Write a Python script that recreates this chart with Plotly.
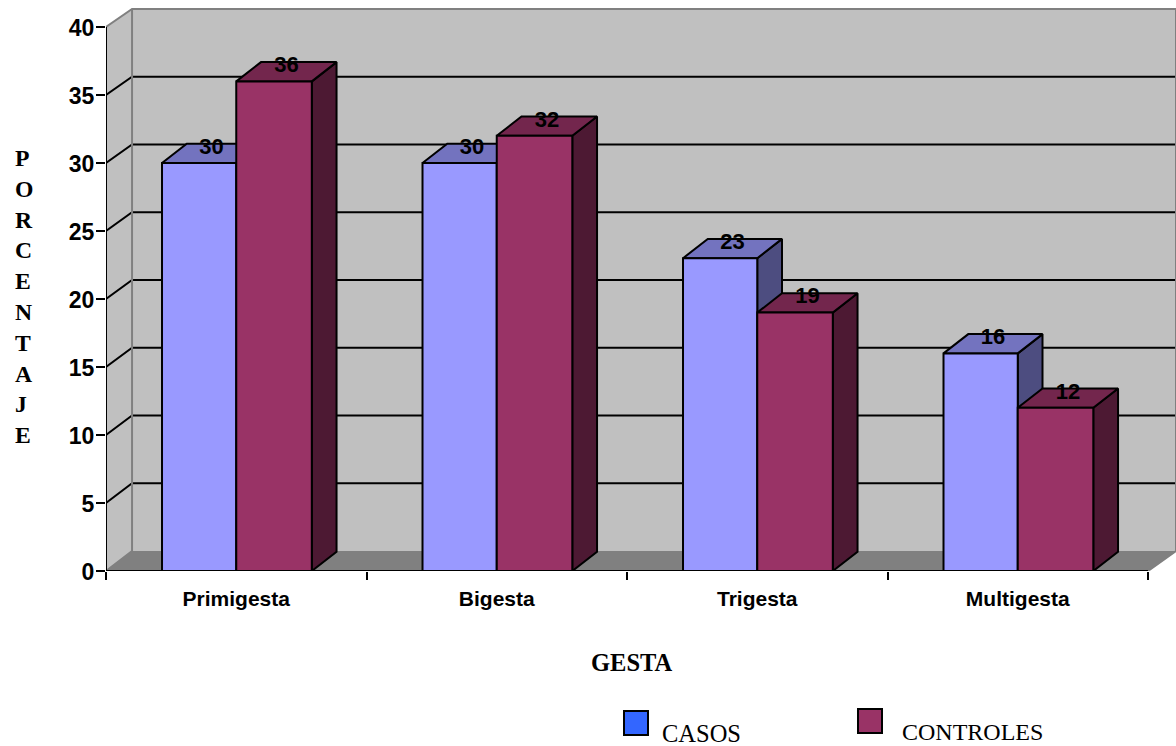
import plotly.graph_objects as go

# Chart data
categories = ["Primigesta", "Bigesta", "Trigesta", "Multigesta"]
casos = [30, 30, 23, 16]
controles = [36, 32, 19, 12]
y_ticks = [0, 5, 10, 15, 20, 25, 30, 35, 40]

# Colours for the three visible faces of each column
CASOS_FACES = {"front": "#9999FF", "top": "#7373BF", "side": "#4D4D80"}
CONTROLES_FACES = {"front": "#993366", "top": "#73264D", "side": "#4D1933"}
WALL = "#C0C0C0"
FLOOR = "#808080"
EDGE = "#808080"

# Pseudo-3D geometry, in axis units
BAR_W = 0.285
BAR_W_CONTROLES = 0.29
BAR_DX = 0.095
BAR_DY = 1.42
WALL_DX = 0.1
X_END = 4.0
X_MAX = 1070 / 260.5
Y_MAX = 571 / 13.6


def wall_y(v):
    """Height on the back wall of a value read on the front axis."""
    return v + 1.47 - 0.0037 * v


def poly(xs, ys, color, line="black", width=2, zorder=0):
    return go.Scatter(
        x=xs, y=ys, mode="lines", fill="toself", fillcolor=color,
        line=dict(color=line, width=width), hoverinfo="skip",
        showlegend=False, cliponaxis=False, zorder=zorder,
    )


def path(xs, ys, color, zorder=0):
    return go.Scatter(
        x=xs, y=ys, mode="lines", line=dict(color=color, width=2),
        hoverinfo="skip", showlegend=False, cliponaxis=False, zorder=zorder,
    )


fig = go.Figure()

# Walls and floor of the box
fig.add_trace(poly([WALL_DX, X_MAX, X_MAX, WALL_DX, WALL_DX],
                   [wall_y(0), wall_y(0), wall_y(40), wall_y(40), wall_y(0)],
                   WALL, line=WALL, width=0))
fig.add_trace(poly([0, WALL_DX, WALL_DX, 0, 0],
                   [0, wall_y(0), wall_y(40), 40, 0],
                   WALL, line=WALL, width=0))
fig.add_trace(poly([0, WALL_DX, X_MAX, X_END, 0],
                   [0, wall_y(0), wall_y(0), 0, 0],
                   FLOOR, line=FLOOR, width=0))

# Gridlines wrap from the axis across the side wall and along the back wall
grid_x, grid_y = [], []
for v in y_ticks[1:-1]:
    grid_x += [0, WALL_DX, X_MAX, None]
    grid_y += [v, wall_y(v), wall_y(v), None]
fig.add_trace(path(grid_x, grid_y, "black"))

# Grey box edges
fig.add_trace(path([0, WALL_DX, X_MAX, X_MAX, X_END],
                   [40, wall_y(40), wall_y(40), wall_y(0), 0], EDGE))
fig.add_trace(path([WALL_DX, WALL_DX, 0], [wall_y(40), wall_y(0), 0], EDGE))


def add_series(name, values, offset, bar_w, faces, z):
    for i, v in enumerate(values):
        left = i + 0.5 + offset
        right = left + bar_w
        fig.add_trace(poly(
            [right, right + BAR_DX, right + BAR_DX, right, right],
            [0, BAR_DY, v + BAR_DY, v, 0], faces["side"], zorder=z))
        fig.add_trace(poly(
            [left, left + BAR_DX, right + BAR_DX, right, left],
            [v, v + BAR_DY, v + BAR_DY, v, v], faces["top"], zorder=z))
    fig.add_trace(go.Bar(
        x=[i + 0.5 + offset + bar_w / 2 for i in range(len(values))],
        y=values, width=bar_w, name=name,
        marker=dict(color=faces["front"], line=dict(color="black", width=2)),
        hoverinfo="skip", showlegend=False, zorder=z + 1,
    ))
    fig.add_trace(go.Scatter(
        x=[i + 0.5 + offset + bar_w / 2 + BAR_DX / 2 for i in range(len(values))],
        y=[v + 1.08 for v in values],
        text=[str(v) for v in values], mode="text", textposition="middle center",
        textfont=dict(family="Liberation Sans", size=22, color="black", weight=700),
        hoverinfo="skip", showlegend=False, cliponaxis=False, zorder=10,
    ))


add_series("CASOS", casos, -BAR_W, BAR_W, CASOS_FACES, 1)
add_series("CONTROLES", controles, 0, BAR_W_CONTROLES, CONTROLES_FACES, 3)

# Front axis lines
fig.add_trace(path([0, 0], [0, 40], "black", zorder=9))
fig.add_trace(path([0, X_END], [0, 0], "black", zorder=9))

fig.update_layout(
    width=1176, height=746,
    margin=dict(l=106, r=0, t=0, b=175, pad=0),
    paper_bgcolor="white", plot_bgcolor="white",
    barmode="overlay",
    showlegend=False,
    xaxis=dict(
        range=[0, X_MAX], showgrid=False, zeroline=False, showline=False,
        tickmode="array", tickvals=[i + 0.5 for i in range(len(categories))],
        ticktext=categories, ticks="", ticklabelstandoff=13,
        tickfont=dict(family="Liberation Sans", size=21, color="black", weight=700),
        minor=dict(tickmode="array", tickvals=list(range(len(categories) + 1)),
                   ticks="outside", ticklen=8, tickwidth=2, tickcolor="black"),
    ),
    yaxis=dict(
        range=[0, Y_MAX], showgrid=False, zeroline=False, showline=False,
        tickmode="array", tickvals=y_ticks, ticks="outside", ticklen=9,
        tickwidth=2, tickcolor="black", ticklabelstandoff=-3, ticklabelshift=1,
        tickfont=dict(family="Liberation Sans", size=23, color="black", weight=700),
    ),
)

SERIF = "Liberation Serif"


def paper_note(text, px, py, size=24, weight=400, **kw):
    fig.add_annotation(
        text=text, xref="paper", yref="paper", showarrow=False,
        x=(px - 106) / 1070, y=(571 - py) / 571, yanchor="middle",
        font=dict(family=SERIF, size=size, color="black", weight=weight), **kw)


paper_note("GESTA", 631.5, 662, size=24.5, weight=700, xanchor="center")
paper_note("<br>".join("PORCENTAJE"), 13, 297, size=23.7, weight=700,
           xanchor="left", align="left")
paper_note("CASOS", 660, 733, size=24.5, xanchor="left")
paper_note("CONTROLES", 900, 732, xanchor="left")

# Legend swatches
for x0, y0, color in [(624, 711, "#3366FF"), (858, 709, "#993366")]:
    fig.add_shape(
        type="rect", xref="paper", yref="paper",
        x0=(x0 - 106) / 1070, x1=(x0 + 24 - 106) / 1070,
        y0=(571 - y0) / 571, y1=(571 - y0 - 24) / 571,
        fillcolor=color, line=dict(color="black", width=2),
    )

fig.write_html("out.html")
